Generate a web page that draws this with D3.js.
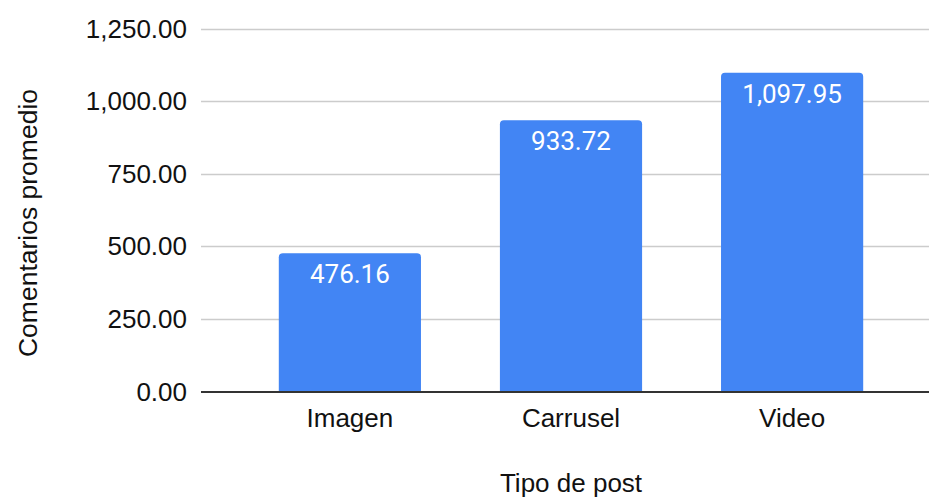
<!DOCTYPE html>
<html>
<head>
<meta charset="utf-8">
<script src="https://cdn.jsdelivr.net/npm/d3@7"></script>
<style>
  html, body { margin:0; padding:0; background:#fff; }
  svg { display:block; }
</style>
</head>
<body>
<div id="chart"></div>
<script>
// Comentarios promedio por tipo de post
const categories = ['Imagen', 'Carrusel', 'Video'];
const values = [476.16, 933.72, 1097.95];
const yTicks = [0, 250, 500, 750, 1000, 1250];
const xTitle = 'Tipo de post';
const yTitle = 'Comentarios promedio';

(function(){
  const width = 929, height = 498;
  const svg = d3.select('#chart').append('svg')
    .attr('width', width)
    .attr('height', height);

  const font = 'Arial, "Liberation Sans", sans-serif';
  const gridLeft = 201, gridRight = 929;

  const x = d3.scaleBand()
    .domain(categories)
    .range([239, 903])
    .paddingInner(0.357)
    .paddingOuter(0.18);

  const y = d3.scaleLinear()
    .domain([0, 1250])
    .range([391.5, 28.5]);

  const fmt = d3.format(',.2f');

  // gridlines
  svg.append('g').selectAll('line')
    .data(yTicks.filter(d => d !== 0))
    .join('line')
    .attr('x1', gridLeft)
    .attr('x2', gridRight)
    .attr('y1', d => Math.round(y(d)) + 0.5)
    .attr('y2', d => Math.round(y(d)) + 0.5)
    .attr('stroke', '#cccccc')
    .attr('stroke-width', 1.5);

  // y tick labels
  svg.append('g').selectAll('text')
    .data(yTicks)
    .join('text')
    .attr('x', 187)
    .attr('y', d => y(d))
    .attr('dy', '0.35em')
    .attr('text-anchor', 'end')
    .attr('font-family', font)
    .attr('font-size', 26)
    .attr('fill', '#111')
    .text(d => fmt(d));

  // bars with rounded top corners
  const r = 4;
  const bw = x.bandwidth();
  svg.append('g').selectAll('path')
    .data(categories)
    .join('path')
    .attr('fill', '#4285f4')
    .attr('d', (c, i) => {
      const x0 = x(c), x1 = x0 + bw;
      const yt = y(values[i]), yb = y(0);
      return `M${x0},${yb}V${yt + r}Q${x0},${yt} ${x0 + r},${yt}` +
             `H${x1 - r}Q${x1},${yt} ${x1},${yt + r}V${yb}Z`;
    });

  // value labels
  svg.append('g').selectAll('text')
    .data(categories)
    .join('text')
    .attr('x', c => x(c) + bw / 2)
    .attr('y', (c, i) => y(values[i]) + 30)
    .attr('text-anchor', 'middle')
    .attr('font-family', 'Roboto, sans-serif')
    .attr('font-size', 26)
    .attr('fill', '#ffffff')
    .text((c, i) => fmt(values[i]));

  // baseline
  svg.append('line')
    .attr('x1', gridLeft)
    .attr('x2', gridRight)
    .attr('y1', y(0) + 0.5)
    .attr('y2', y(0) + 0.5)
    .attr('stroke', '#333')
    .attr('stroke-width', 2);

  // x category labels
  svg.append('g').selectAll('text')
    .data(categories)
    .join('text')
    .attr('x', c => x(c) + bw / 2)
    .attr('y', 427)
    .attr('text-anchor', 'middle')
    .attr('font-family', font)
    .attr('font-size', 26)
    .attr('fill', '#111')
    .text(d => d);

  // axis titles
  svg.append('text')
    .attr('x', x('Carrusel') + bw / 2)
    .attr('y', 492)
    .attr('text-anchor', 'middle')
    .attr('font-family', font)
    .attr('font-size', 26)
    .attr('fill', '#111')
    .text(xTitle);

  svg.append('text')
    .attr('transform', 'translate(37,223) rotate(-90)')
    .attr('text-anchor', 'middle')
    .attr('font-family', font)
    .attr('font-size', 26.5)
    .attr('fill', '#111')
    .text(yTitle);
})();
</script>
</body>
</html>
